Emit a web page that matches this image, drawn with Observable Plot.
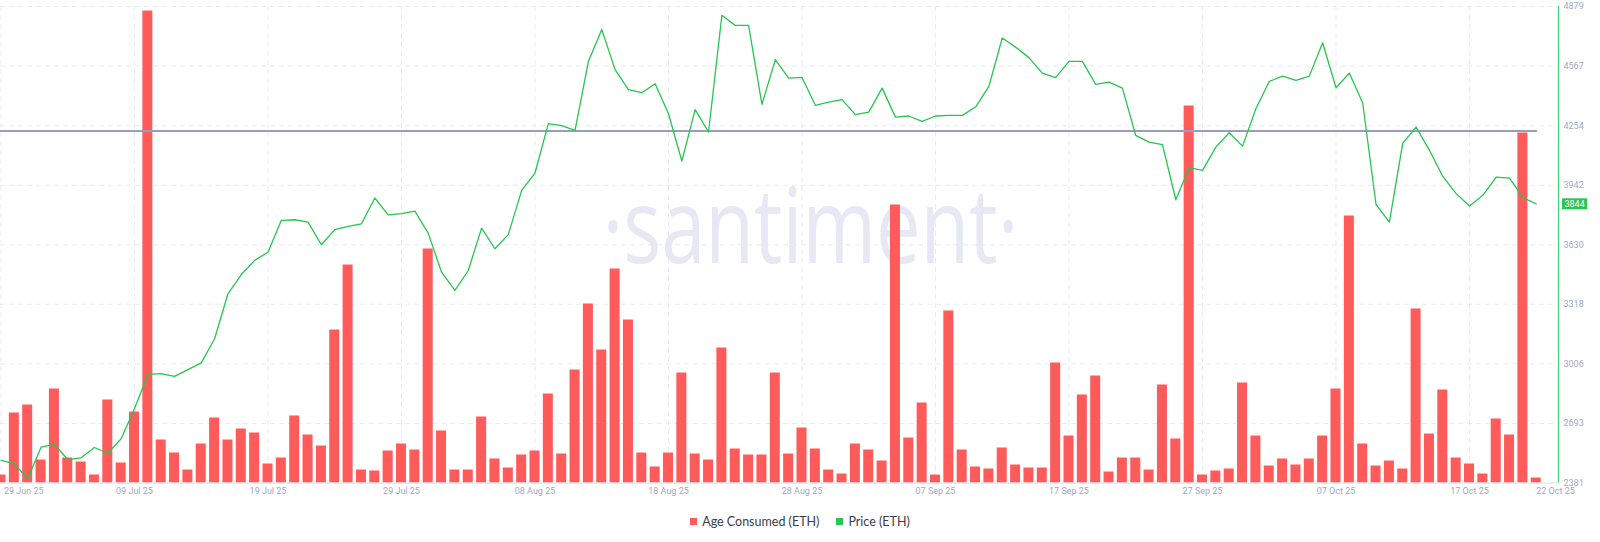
<!DOCTYPE html>
<html>
<head>
<meta charset="utf-8">
<script src="https://cdn.jsdelivr.net/npm/d3@7"></script>
<script src="https://cdn.jsdelivr.net/npm/@observablehq/plot@0.6"></script>
<style>
  html, body { margin: 0; padding: 0; background: #ffffff; }
  #chart svg { display: block; }
  .legend { height: 42px; display: flex; justify-content: center; align-items: center; gap: 17px;
            font: 12.5px Lato, "Open Sans", sans-serif; color: #3b3e48; }
  .legend span.item { display: inline-flex; align-items: center; }
  .legend i { display: inline-block; width: 7px; height: 7px; margin-right: 5px; }
</style>
</head>
<body>
<div id="chart"></div>
<div class="legend">
  <span class="item"><i style="background:#ff5b5b"></i>Age Consumed (ETH)</span>
  <span class="item"><i style="background:#26c650"></i>Price (ETH)</span>
</div>
<script>
// ---- data ----
const startDay = "2025-06-29"; // one value per day from here
const ageConsumed = [ // relative units, daily
  8,70,78,23,94,25,21,8,83,20,
  71,472,43,30,13,39,65,43,54,50,
  19,25,67,48,37,153,218,13,12,32,
  39,33,234,52,13,13,66,24,15,28,
  32,89,29,113,179,133,214,163,30,16,
  30,110,29,23,135,34,28,28,110,29,
  55,34,13,9,39,33,22,278,45,80,
  8,172,33,16,14,35,18,15,15,120,
  47,88,107,11,25,25,13,98,44,377,
  8,12,14,100,47,17,24,18,24,47,
  94,267,39,17,22,14,174,49,93,25,
  19,9,64,48,350,5
];
const priceEth = [
  2499,2482,2403,2569,2583,2504,2513,2567,2537,2613,
  2770,2950,2954,2940,2975,3011,3137,3373,3474,3548,
  3591,3758,3761,3749,3630,3709,3726,3740,3875,3787,
  3793,3806,3691,3486,3391,3495,3717,3609,3683,3915,
  4006,4265,4254,4230,4591,4759,4548,4443,4427,4474,
  4317,4069,4338,4221,4833,4780,4780,4366,4600,4504,
  4507,4361,4378,4391,4312,4325,4451,4299,4305,4277,
  4305,4308,4308,4352,4460,4714,4666,4611,4530,4506,
  4591,4591,4471,4483,4451,4203,4168,4155,3866,4034,
  4020,4142,4217,4147,4343,4486,4514,4492,4514,4689,
  4453,4530,4373,3841,3749,4163,4247,4125,3988,3898,
  3833,3889,3985,3979,3877,3844
];
const xTickLabels = ["29 Jun 25","09 Jul 25","19 Jul 25","29 Jul 25","08 Aug 25","18 Aug 25",
                     "28 Aug 25","07 Sep 25","17 Sep 25","27 Sep 25","07 Oct 25","17 Oct 25","22 Oct 25"];
const xTickDays = [0,10,20,30,40,50,60,70,80,90,100,110,115];
const xGridDays = [0,10,20,30,40,50,60,70,80,90,100,110];
const priceTicks = [2381,2693,3006,3318,3630,3942,4254,4567,4879];
const refLevel = 4226;
const lastPriceLabel = "3844";
const watermark = "\u00B7santiment\u00B7";
const ageTop = 476.5; // age value reaching the top of the left (hidden) axis

// ---- derived tables ----
const DAY = 864e5;
const t0 = new Date(startDay + "T00:00:00Z").getTime();
const dayDate = i => new Date(t0 + i * DAY);
const pMin = priceTicks[0], pMax = priceTicks[priceTicks.length - 1];
const rows = priceEth.map((p, i) => ({
  date: dayDate(i),
  x1: new Date(t0 + (i - 0.375) * DAY),
  x2: new Date(t0 + (i + 0.375) * DAY),
  price: p,
  age: ageConsumed[i],
  ageY: pMin + ageConsumed[i] / ageTop * (pMax - pMin)
}));
const lastI = priceEth.length - 1;
const xStart = new Date(t0 - 0.0375 * DAY);
const xEnd = new Date(t0 + (lastI + 1.667) * DAY);
const xTicks = xTickDays.map((d, k) => ({date: dayDate(d), label: xTickLabels[k], k}));
const nT = xTicks.length;

const grid = "#e9ebf4";
const tickFill = "#a3a8c4";

const chart = Plot.plot({
  width: 1600,
  height: 500,
  marginLeft: 0,
  marginRight: 42,
  marginTop: 6,
  marginBottom: 17.5,
  style: {fontFamily: "Roboto, sans-serif", fontSize: "9px", background: "transparent", overflow: "visible"},
  x: {type: "utc", domain: [xStart, xEnd], axis: null},
  y: {domain: [pMin, pMax], axis: null},
  marks: [
    // grid
    Plot.ruleY(priceTicks, {y: d => d, x1: xStart, x2: xEnd, stroke: grid, strokeDasharray: "5,4"}),
    Plot.ruleX(xGridDays.map(dayDate), {x: d => d, stroke: grid, strokeDasharray: "5,4"}),
    // watermark
    Plot.text([watermark], {text: d => d, frameAnchor: "middle", dx: 31, dy: -15, fontSize: 105,
      fontFamily: "'Open Sans', sans-serif", fill: "#e6e9f3"}),
    // bars (age consumed)
    Plot.rect(rows, {x1: "x1", x2: "x2", y1: pMin, y2: "ageY", fill: "#ff5b5b"}),
    // base axis line
    Plot.ruleY([pMin], {x1: xStart, x2: xEnd, stroke: "#dfe2ec"}),
    // reference level
    Plot.ruleY([refLevel], {x1: xStart, x2: new Date(t0 + (lastI + 0.1) * DAY), stroke: "#979ebd", strokeWidth: 2}),
    // price line
    Plot.line(rows, {x: "date", y: "price", stroke: "#26c650", strokeWidth: 1.3}),
    // right axis line
    Plot.ruleX([xEnd], {stroke: "#45d46f", strokeWidth: 1.2}),
    // right axis labels
    Plot.text(priceTicks, {x: xEnd, y: d => d, text: d => String(d), dx: 5, textAnchor: "start", fill: tickFill, fontSize: 9}),
    // x axis labels
    Plot.text(xTicks.filter(d => d.k === 0), {x: "date", y: pMin, dy: 8, dx: 3, text: "label", textAnchor: "start", fill: tickFill, fontSize: 9}),
    Plot.text(xTicks.filter(d => d.k > 0 && d.k < nT - 1), {x: "date", y: pMin, dy: 8, text: "label", fill: tickFill, fontSize: 9}),
    Plot.text(xTicks.filter(d => d.k === nT - 1), {x: "date", y: pMin, dy: 8, text: "label", textAnchor: "start", fill: tickFill, fontSize: 9}),
    // last price label
    Plot.text([lastPriceLabel], {x: xEnd, y: priceEth[lastI], text: d => d, dx: 6, textAnchor: "start", fill: "#ffffff", fontSize: 9})
  ]
});
document.getElementById("chart").appendChild(chart);

const texts = Array.from(chart.querySelectorAll("text"));
// squeeze watermark to the logo's width
const wm = texts.find(t => t.textContent === watermark);
if (wm) { wm.setAttribute("textLength", 416); wm.setAttribute("lengthAdjust", "spacingAndGlyphs"); }
// background box for the last price tag
const lp = texts.find(t => t.textContent === lastPriceLabel && t.getAttribute("fill") === "#ffffff")
        || texts.filter(t => t.textContent === lastPriceLabel).pop();
if (lp) {
  const bb = lp.getBBox();
  const r = document.createElementNS("http://www.w3.org/2000/svg", "rect");
  r.setAttribute("x", bb.x - 2.5);
  r.setAttribute("y", bb.y - 0.5);
  r.setAttribute("width", bb.width + 5);
  r.setAttribute("height", bb.height + 1);
  r.setAttribute("fill", "#2bc555");
  if (lp.getAttribute("transform")) r.setAttribute("transform", lp.getAttribute("transform"));
  lp.parentNode.insertBefore(r, lp);
}
</script>
</body>
</html>
